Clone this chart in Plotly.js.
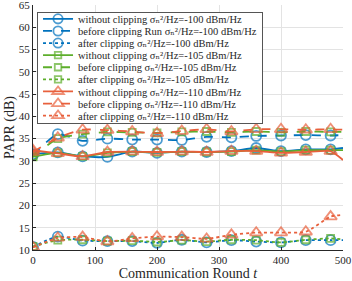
<!DOCTYPE html>
<html><head><meta charset="utf-8">
<script src="https://cdn.plot.ly/plotly-3.0.1.min.js"></script>
<style>html,body{margin:0;padding:0;background:#fff}#c{width:352px;height:281px}</style>
</head><body><div id="c"></div>
<script>
const rounds = [0,40,80,120,160,200,240,280,320,360,400,440,480,500];
// -100 dBm/Hz
const without100 = [31.5,31.9,31.0,30.9,32.1,31.8,32.1,32.0,32.2,32.9,32.2,32.6,32.6,32.9];
const before100  = [31.3,36.0,34.5,35.0,34.8,34.8,34.7,35.4,35.3,35.6,35.7,35.8,35.7,35.8];
const after100   = [10.7,13.0,12.1,12.0,12.0,11.6,12.3,11.7,12.2,11.9,11.7,12.2,12.2,12.2];
// -105 dBm/Hz
const without105 = [30.9,31.8,31.0,31.8,32.1,31.9,32.1,32.0,32.1,32.4,32.1,32.4,32.4,32.4];
const before105  = [31.0,35.0,36.0,36.5,36.4,36.3,36.5,36.6,36.4,36.6,36.4,36.6,36.5,36.5];
const after105   = [10.8,12.2,12.3,12.0,12.1,11.8,12.2,11.9,12.3,12.2,11.7,12.3,12.6,12.4];
// -110 dBm/Hz
const without110 = [32.4,31.7,31.0,32.0,32.1,32.0,32.1,32.0,32.2,32.2,31.8,32.0,32.2,30.2];
const before110  = [32.0,35.2,37.0,36.9,36.6,36.2,36.7,37.1,36.6,37.1,37.1,37.0,37.1,37.0];
const after110   = [10.6,12.7,12.9,11.9,12.6,13.0,12.9,12.5,13.4,13.9,13.9,14.1,17.5,17.9];

const sig = 'σ\u2099\u00b2/Hz=';
const names = [
 'without clipping '+sig+'-100 dBm/Hz',
 'before clipping Run '+sig+'-100 dBm/Hz',
 'after clipping '+sig+'-100 dBm/Hz',
 'without clipping '+sig+'-105 dBm/Hz',
 'before clipping '+sig+'-105 dBm/Hz',
 'after clipping '+sig+'-105 dBm/Hz',
 'without clipping '+sig+'-110 dBm/Hz',
 'before clipping '+sig+'-110 dBm/Hz',
 'after clipping '+sig+'-110 dBm/Hz'
];
const series = [without100,before100,after100,without105,before105,after105,without110,before110,after110];
const colors = ['#0072BD','#0072BD','#0072BD','#5DAE2B','#5DAE2B','#5DAE2B','#E8603C','#E8603C','#E8603C'];
const dashes = ['solid','dash','dot','solid','dash','dot','solid','dash','dot'];
const symbols = ['circle-open','circle-open','circle-open','square-open','square-open','square-open','triangle-up-open','triangle-up-open','triangle-up-open'];
const msize = [10,10,10,7,7,7,11,11,11];

const traces = series.map((ys,i)=>({
  x: rounds, y: ys, name: names[i], type:'scatter', mode:'lines+markers',
  line:{color:colors[i], dash:dashes[i], width:1.8, shape:'spline', smoothing:0.6},
  marker:{symbol:symbols[i], color:colors[i], size: rounds.map((r,j)=> j===rounds.length-1?0:msize[i]), line:{width:1.8,color:colors[i]}}
}));

const font = 'Liberation Serif, DejaVu Serif, serif';
const layout = {
  width:352, height:281,
  margin:{l:33,r:9,t:5,b:31},
  paper_bgcolor:'#fff', plot_bgcolor:'#fff',
  font:{family:font, size:10.5, color:'#262626'},
  showlegend:true,
  legend:{x:0.013, y:0.972, xanchor:'left', yanchor:'top', bgcolor:'#fff', bordercolor:'#555', borderwidth:1,
          font:{family:font, size:10.5, color:'#262626'}, tracegroupgap:0, itemwidth:30},
  xaxis:{range:[0,500], tickvals:[0,100,200,300,400,500], showgrid:true, gridcolor:'#e3e3e3', zeroline:false,
         showline:true, linecolor:'#262626', linewidth:1, ticks:'inside', ticklen:3, tickcolor:'#262626',
         ticklabeloverflow:'allow',
         tickfont:{family:font,size:11,color:'#262626'},
         title:{text:'Communication Round <i>t</i>', font:{family:font,size:14,color:'#262626'}, standoff:2}},
  yaxis:{range:[10,65], tickvals:[10,15,20,25,30,35,40,45,50,55,60,65], showgrid:true, gridcolor:'#e3e3e3', zeroline:false,
         showline:true, linecolor:'#262626', linewidth:1, ticks:'inside', ticklen:3, tickcolor:'#262626',
         ticklabeloverflow:'allow',
         tickfont:{family:font,size:11,color:'#262626'},
         title:{text:'PAPR (dB)', font:{family:font,size:14,color:'#262626'}, standoff:0}}
};
Plotly.newPlot('c', traces, layout, {displayModeBar:false, staticPlot:true}).then(gd=>{
  // compact legend rows (Plotly enforces a tall minimum row height)
  const items = gd.querySelectorAll('.legend .traces');
  const step = 12.1, first = 7;
  items.forEach((g,i)=>{
    const m = /translate\(([-\d.]+)[ ,]+([-\d.]+)\)/.exec(g.getAttribute('transform')||'');
    const x = m ? parseFloat(m[1]) : 0;
    g.setAttribute('transform','translate('+x+','+(first+i*step)+')');
  });
  const bg = gd.querySelector('.legend .bg');
  if (bg) bg.setAttribute('height', first + (items.length-1)*step + 7);
});
</script></body></html>
